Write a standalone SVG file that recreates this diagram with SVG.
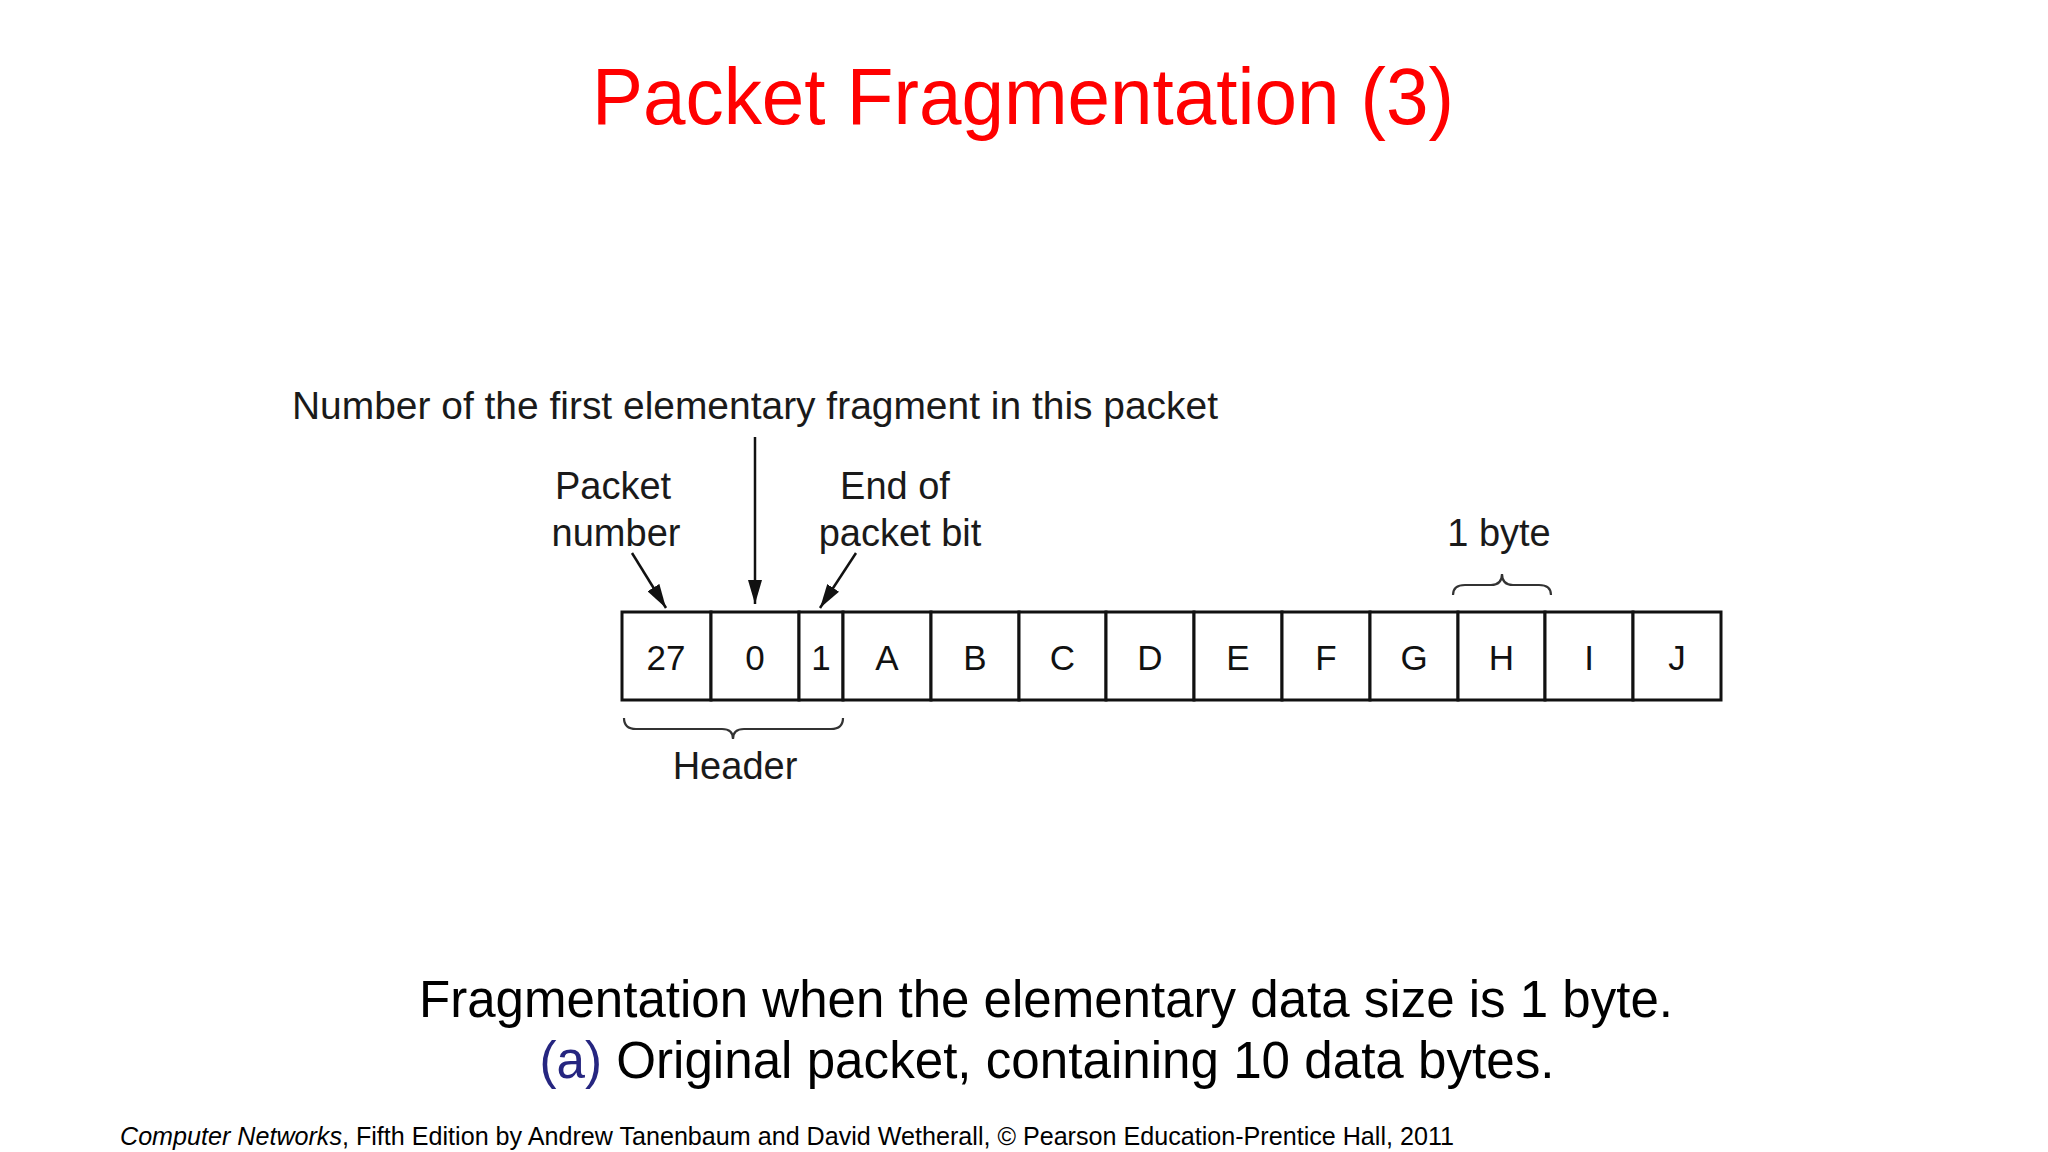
<svg xmlns="http://www.w3.org/2000/svg" width="2048" height="1152" viewBox="0 0 2048 1152">
<defs>
<style>
text{font-family:"Liberation Sans",Arial,sans-serif;}
.title{font-size:80px;fill:#f00;text-anchor:middle;}
.lbl{font-size:38px;fill:#1a1a1a;text-anchor:middle;}
.cell rect{fill:#fff;stroke:#111;stroke-width:3;}
.cell text{font-size:35px;fill:#111;text-anchor:middle;}
.cap{font-size:51px;fill:#000;text-anchor:middle;}
.foot{font-size:25px;fill:#000;}
.conn line{stroke:#111;stroke-width:2.5;}
.brace{fill:none;stroke:#333;stroke-width:2.2;}
</style>
<marker id="ah" viewBox="0 0 24 14" refX="24" refY="7" markerWidth="24" markerHeight="14" orient="auto" markerUnits="userSpaceOnUse">
<path d="M0,0 L24,7 L0,14 Z" fill="#111"/>
</marker>
</defs>
<rect width="2048" height="1152" fill="#fff"/>
<text class="title" x="1023" y="124" textLength="862" lengthAdjust="spacingAndGlyphs">Packet Fragmentation (3)</text>

<g id="label-first">
<text class="lbl" x="755" y="419" textLength="926" lengthAdjust="spacingAndGlyphs">Number of the first elementary fragment in this packet</text>
</g>
<g id="label-packet-number">
<text class="lbl" x="613" y="499">Packet</text>
<text class="lbl" x="616" y="546">number</text>
</g>
<g id="label-end">
<text class="lbl" x="895" y="499">End of</text>
<text class="lbl" x="900" y="546">packet bit</text>
</g>
<g id="label-byte">
<text class="lbl" x="1499" y="546">1 byte</text>
<path class="brace" d="M1453,595 Q1453,585 1465,585 L1491,585 Q1502,585 1502,574 Q1502,585 1513,585 L1539,585 Q1551,585 1551,595"/>
</g>
<g id="label-header">
<path class="brace" d="M624,718 Q624,729 636,729 L722,729 Q733,729 733,739 Q733,729 744,729 L831,729 Q843,729 843,718"/>
<text class="lbl" x="735" y="779">Header</text>
</g>

<g id="packet">
<g id="cell-27" class="cell"><rect x="622" y="612" width="89" height="88"/><text x="666" y="670">27</text></g>
<g id="cell-0" class="cell"><rect x="711" y="612" width="88" height="88"/><text x="755" y="670">0</text></g>
<g id="cell-1" class="cell"><rect x="799" y="612" width="44" height="88"/><text x="821" y="670">1</text></g>
<g id="cell-A" class="cell"><rect x="843" y="612" width="88" height="88"/><text x="887" y="670">A</text></g>
<g id="cell-B" class="cell"><rect x="931" y="612" width="88" height="88"/><text x="975" y="670">B</text></g>
<g id="cell-C" class="cell"><rect x="1019" y="612" width="87" height="88"/><text x="1062.5" y="670">C</text></g>
<g id="cell-D" class="cell"><rect x="1106" y="612" width="88" height="88"/><text x="1150" y="670">D</text></g>
<g id="cell-E" class="cell"><rect x="1194" y="612" width="88" height="88"/><text x="1238" y="670">E</text></g>
<g id="cell-F" class="cell"><rect x="1282" y="612" width="88" height="88"/><text x="1326" y="670">F</text></g>
<g id="cell-G" class="cell"><rect x="1370" y="612" width="88" height="88"/><text x="1414" y="670">G</text></g>
<g id="cell-H" class="cell"><rect x="1458" y="612" width="87" height="88"/><text x="1501.5" y="670">H</text></g>
<g id="cell-I" class="cell"><rect x="1545" y="612" width="88" height="88"/><text x="1589" y="670">I</text></g>
<g id="cell-J" class="cell"><rect x="1633" y="612" width="88" height="88"/><text x="1677" y="670">J</text></g>
</g>

<g id="connectors" class="conn">
<line x1="755" y1="437" x2="755" y2="604" marker-end="url(#ah)"/>
<line x1="632" y1="553" x2="666" y2="608" marker-end="url(#ah)"/>
<line x1="856" y1="553" x2="820" y2="608" marker-end="url(#ah)"/>
</g>

<text class="cap" x="1046" y="1017" textLength="1254" lengthAdjust="spacingAndGlyphs">Fragmentation when the elementary data size is 1 byte.</text>
<text class="cap" x="1047" y="1078" textLength="1015" lengthAdjust="spacingAndGlyphs"><tspan fill="#262680">(a)</tspan> Original packet, containing 10 data bytes.</text>

<text class="foot" x="120" y="1145" textLength="1334" lengthAdjust="spacingAndGlyphs"><tspan font-style="italic">Computer Networks</tspan>, Fifth Edition by Andrew Tanenbaum and David Wetherall, © Pearson Education-Prentice Hall, 2011</text>
</svg>
